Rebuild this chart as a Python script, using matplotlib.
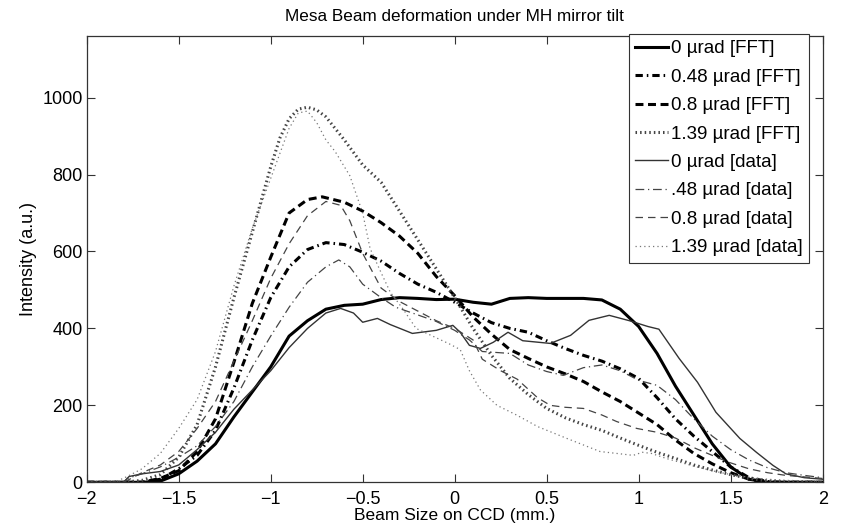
import matplotlib
matplotlib.use("Agg")
import matplotlib.pyplot as plt

plt.rcParams['font.family'] = ['Liberation Sans', 'DejaVu Sans']

# FFT model curves
x_fft0 = [-2, -1.7, -1.6, -1.5, -1.4, -1.3, -1.2, -1.1, -1.0, -0.9, -0.8, -0.7, -0.6, -0.5,
          -0.4, -0.3, -0.2, -0.1, 0, 0.1, 0.2, 0.3, 0.4, 0.5, 0.6, 0.7, 0.8, 0.9, 1.0, 1.1,
          1.2, 1.3, 1.4, 1.5, 1.6, 1.7, 2.0]
y_fft0 = [0, 0, 3, 22, 55, 100, 170, 235, 300, 380, 420, 450, 460, 463,
          475, 480, 478, 475, 476, 468, 463, 478, 480, 478, 478, 478, 474, 450, 405, 335,
          250, 175, 100, 40, 8, 0, 0]

x_fft048 = [-2, -1.7, -1.6, -1.5, -1.4, -1.3, -1.2, -1.1, -1.0, -0.9, -0.8, -0.7, -0.6, -0.5,
            -0.4, -0.3, -0.2, -0.1, 0, 0.1, 0.2, 0.3, 0.4, 0.5, 0.6, 0.7, 0.8, 0.9, 1.0,
            1.1, 1.2, 1.3, 1.4, 1.5, 1.6, 1.7, 1.8, 2.0]
y_fft048 = [0, 0, 8, 35, 70, 135, 245, 370, 480, 560, 605, 623, 618, 598,
            575, 543, 515, 494, 468, 440, 415, 400, 390, 368, 348, 330, 315, 295, 270,
            220, 165, 120, 80, 40, 12, 2, 0, 0]

x_fft08 = [-2, -1.7, -1.6, -1.5, -1.4, -1.3, -1.2, -1.1, -1.0, -0.9, -0.8, -0.72, -0.6, -0.5,
           -0.4, -0.3, -0.2, -0.1, 0, 0.1, 0.2, 0.3, 0.4, 0.5, 0.6, 0.7, 0.8, 0.9, 1.0,
           1.1, 1.2, 1.3, 1.4, 1.5, 1.6, 1.7, 2.0]
y_fft08 = [0, 0, 10, 30, 80, 165, 312, 465, 585, 700, 735, 742, 728, 705,
           675, 640, 595, 535, 485, 430, 385, 345, 322, 300, 282, 262, 235, 210, 180,
           150, 110, 75, 48, 25, 8, 0, 0]

x_fft139 = [-2, -1.8, -1.7, -1.6, -1.5, -1.4, -1.3, -1.2, -1.1, -1.0, -0.95, -0.9, -0.85,
            -0.8, -0.75, -0.7, -0.6, -0.5, -0.4, -0.3, -0.2, -0.1, 0, 0.1, 0.2, 0.3, 0.4,
            0.5, 0.6, 0.7, 0.8, 0.9, 1.0, 1.1, 1.2, 1.3, 1.4, 1.5, 1.6, 1.7, 1.8, 2.0]
y_fft139 = [0, 0, 5, 20, 65, 150, 300, 480, 650, 820, 895, 945, 970,
            975, 968, 950, 890, 825, 780, 705, 630, 555, 480, 400, 330, 270, 228,
            192, 168, 150, 135, 115, 96, 78, 62, 45, 32, 20, 10, 4, 2, 0]

# measured CCD profiles
x_dat0 = [-2, -1.8, -1.77, -1.7, -1.6, -1.5, -1.4, -1.3, -1.2, -1.1, -1.0, -0.9, -0.8, -0.7,
          -0.62, -0.55, -0.5, -0.42, -0.35, -0.23, -0.1, -0.01, 0.03, 0.08, 0.14, 0.21,
          0.29, 0.37, 0.52, 0.63, 0.73, 0.84, 0.95, 1.05, 1.11, 1.22, 1.32, 1.42, 1.55,
          1.64, 1.73, 1.8, 1.9, 2.0]
y_dat0 = [0, 0, 15, 22, 28, 45, 85, 130, 190, 240, 290, 350, 400, 440,
          452, 440, 416, 426, 410, 387, 395, 408, 390, 356, 348, 364,
          390, 368, 361, 382, 421, 434, 420, 405, 398, 322, 260, 182, 114,
          78, 44, 22, 12, 8]

x_dat048 = [-2, -1.8, -1.78, -1.7, -1.6, -1.5, -1.4, -1.3, -1.2, -1.1, -1.0, -0.9, -0.8,
            -0.7, -0.63, -0.57, -0.5, -0.4, -0.32, -0.2, -0.1, 0, 0.08, 0.15, 0.3, 0.4,
            0.5, 0.59, 0.7, 0.8, 0.9, 1.0, 1.1, 1.2, 1.3, 1.4, 1.5, 1.6, 1.7, 1.8, 1.9, 2.0]
y_dat048 = [0, 0, 10, 22, 40, 65, 95, 145, 210, 300, 380, 455, 520,
            560, 578, 560, 515, 480, 455, 435, 418, 395, 370, 340, 335, 305,
            288, 278, 298, 305, 290, 265, 252, 215, 165, 120, 85, 58, 38, 25, 18, 12]

x_dat08 = [-2, -1.8, -1.75, -1.7, -1.6, -1.5, -1.4, -1.3, -1.2, -1.1, -1.0, -0.9, -0.8,
           -0.7, -0.62, -0.57, -0.5, -0.4, -0.3, -0.2, -0.1, 0, 0.1, 0.15, 0.25, 0.34,
           0.45, 0.52, 0.6, 0.7, 0.8, 0.88, 0.99, 1.1, 1.2, 1.31, 1.4, 1.49, 1.6, 1.7,
           1.8, 1.9, 2.0]
y_dat08 = [0, 0, 12, 25, 45, 80, 140, 210, 315, 420, 530, 620, 693,
           730, 720, 680, 595, 505, 470, 445, 420, 400, 370, 320, 290, 268,
           220, 200, 195, 192, 175, 158, 140, 130, 115, 88, 70, 52, 35, 25,
           18, 14, 10]

x_dat139 = [-2, -1.85, -1.78, -1.7, -1.6, -1.5, -1.4, -1.3, -1.2, -1.1, -1.0, -0.9, -0.85,
            -0.8, -0.75, -0.7, -0.65, -0.57, -0.5, -0.46, -0.4, -0.35, -0.28, -0.21,
            -0.12, -0.03, 0.03, 0.08, 0.14, 0.23, 0.34, 0.45, 0.61, 0.79, 0.9, 0.97,
            1.02, 1.07, 1.15, 1.3, 1.4, 1.5, 1.6, 1.7, 1.8, 2.0]
y_dat139 = [0, 0, 15, 35, 75, 140, 215, 340, 510, 660, 790, 920, 960,
            965, 935, 890, 860, 797, 700, 608, 545, 494, 450, 400,
            380, 360, 345, 290, 240, 200, 174, 145, 114, 80, 74, 70,
            78, 75, 62, 42, 30, 20, 13, 8, 5, 3]

fig = plt.figure(figsize=(8.42, 5.30), dpi=100)
ax = fig.add_axes([0.103, 0.090, 0.874, 0.842])

ax.plot(x_fft0, y_fft0, color='black', lw=2.2, ls='-', label='0 µrad [FFT]')
ax.plot(x_fft048, y_fft048, color='black', lw=2.2, ls=(0, (2.4, 1.3, 0.5, 1.3)), label='0.48 µrad [FFT]')
ax.plot(x_fft08, y_fft08, color='black', lw=2.2, ls=(0, (2.6, 1.5)), label='0.8 µrad [FFT]')
ax.plot(x_fft139, y_fft139, color='#444444', lw=2.2, ls=(0, (0.5, 1.0)), label='1.39 µrad [FFT]')
ax.plot(x_dat0, y_dat0, color='#333333', lw=1.0, ls='-', label='0 µrad [data]')
ax.plot(x_dat048, y_dat048, color='#444444', lw=0.9, ls=(0, (7, 3, 1, 3)), label='.48 µrad [data]')
ax.plot(x_dat08, y_dat08, color='#444444', lw=0.9, ls=(0, (6, 4)), label='0.8 µrad [data]')
ax.plot(x_dat139, y_dat139, color='#777777', lw=0.9, ls=(0, (1, 2.5)), label='1.39 µrad [data]')

ax.set_xlim(-2, 2)
ax.set_ylim(0, 1160)
ax.set_xticks([-2, -1.5, -1, -0.5, 0, 0.5, 1, 1.5, 2])
ax.set_xticklabels(['−2', '−1.5', '−1', '−0.5', '0', '0.5', '1', '1.5', '2'])
ax.set_yticks([0, 200, 400, 600, 800, 1000])
ax.tick_params(direction='in', length=6, width=0.8, top=True, right=True,
               labelsize=13, pad=3, color='#333333')
ax.tick_params(axis='x', pad=6)
for s in ax.spines.values():
    s.set_color('#333333')
    s.set_linewidth(0.9)

ax.set_title('Mesa Beam deformation under MH mirror tilt', fontsize=12.3, pad=11)
ax.set_xlabel('Beam Size on CCD (mm.)', fontsize=12.5, labelpad=0)
ax.set_ylabel('Intensity (a.u.)', fontsize=13, labelpad=4)

leg = ax.legend(loc='upper right', bbox_to_anchor=(0.982, 1.005), fontsize=13.5,
                frameon=True, fancybox=False, framealpha=1, edgecolor='#333333',
                handlelength=1.75, handletextpad=0.15, labelspacing=0.6,
                borderpad=0.35, borderaxespad=0)
leg.get_frame().set_linewidth(0.8)

fig.savefig('out.png', dpi=100)
